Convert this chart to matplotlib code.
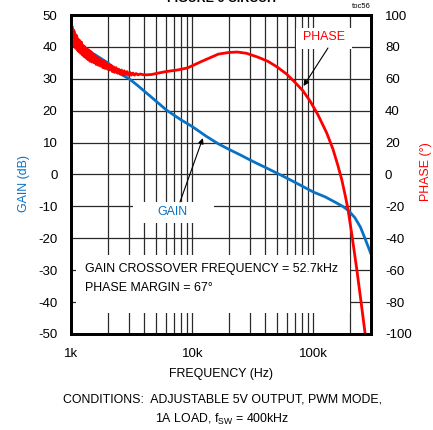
import matplotlib
matplotlib.use("Agg")
import matplotlib.pyplot as plt
from matplotlib.patches import Rectangle

plt.rcParams['font.family'] = ['Liberation Sans', 'DejaVu Sans']
plt.rcParams['axes.unicode_minus'] = False

# ---- data ----
gain_freq = [1000, 1150, 1360, 1650, 2000, 2540, 3000, 3500, 4500, 6100, 8000, 10000,
             13000, 16400, 20000, 25000, 32000, 41700, 52700, 70000, 100000, 125000,
             150000, 175000, 195000, 220000, 245000, 270000, 300000]
gain_db = [41.5, 40.2, 39.0, 37.0, 35.0, 31.5, 30.0, 28.0, 24.5, 20.2, 17.2, 15.0,
           12.0, 9.6, 7.9, 6.1, 4.0, 1.9, 0.0, -2.4, -5.5, -7.0,
           -8.6, -10.0, -11.3, -13.5, -16.5, -20.5, -25.0]

phase_freq = [1000, 1010, 1020, 1030, 1040, 1050, 1060, 1075, 1090, 1105, 1120, 1135,
              1150, 1170, 1190, 1210, 1230, 1250, 1270, 1295, 1320, 1345, 1370, 1395,
              1420, 1450, 1480, 1510, 1540, 1570, 1600, 1635, 1670, 1705, 1740, 1780,
              1820, 1860, 1900, 1945, 1990, 2035, 2080, 2130, 2180, 2230, 2280, 2340,
              2400, 2460, 2520, 2590, 2660, 2730, 2800, 2880, 2960, 3040, 3130, 3220,
              3320, 3420, 3550, 3700, 3900, 4200, 4600, 5000, 6000, 7500, 9100, 12000,
              16400, 20000, 23500, 28000, 35000, 42000, 50000, 60000, 70000, 82000,
              94000, 109000, 129000, 145000, 159000, 172000, 182000, 193000,
              208000, 229000, 247000, 267000, 282000]
phase_deg = [84, 93, 83, 91, 81, 90, 80, 88, 79, 87, 78, 85,
             77, 84, 76, 83, 75, 81, 74, 80, 73, 79, 72, 78,
             71, 77, 70.5, 75.5, 70, 74.5, 69, 73.5, 68.5, 72.5, 68, 71.5,
             67, 71, 66.5, 70, 66, 69, 65.5, 68.5, 64.5, 67.5, 64, 67,
             63.5, 66, 63, 65.5, 62.5, 65, 62.5, 64.5, 62.3, 64, 62.3, 63.6,
             62.3, 63.3, 62.5, 63, 62.6, 62.5, 62.7, 63.3, 64.5, 65.5, 66.8, 71,
             75.5, 76.5, 76.8, 76, 73.5, 71, 67.5, 63, 58, 52.5,
             46, 37.5, 26, 16, 6, -3.5, -12, -21.5,
             -37.6, -60, -79, -99, -114]

xticks = [1000, 10000, 100000]
xticklabels = ['1k', '10k', '100k']
gain_ticks = list(range(-50, 51, 10))
phase_ticks = list(range(-100, 101, 20))

BLUE = '#0A72C4'
RED = '#FF0000'
FS = 8.9
TFS = 9.5

fig = plt.figure(figsize=(4.33, 4.30), dpi=100)
ax = fig.add_axes([0.165, 0.2233, 0.692, 0.7418])
ax.set_xscale('log')
ax.set_xlim(1000, 300000)
ax.set_ylim(-50, 50)
ax.set_axisbelow(True)

ax.set_yticks(gain_ticks)
ax.set_xticks(xticks)
ax.set_xticklabels(xticklabels)
ax.grid(True, which='both', axis='both', color='#2a2a2a', lw=0.9)
ax.tick_params(which='both', length=0, labelsize=TFS)
ax.tick_params(axis='y', pad=10)
ax.tick_params(axis='x', pad=10)

# white boxes hiding the grid behind the labels
ax.add_patch(Rectangle((1090, -43.4), 200000 - 1090, 18.2, facecolor='white',
                       edgecolor='none', zorder=1))
ax.add_patch(Rectangle((3230, -15.2), 15000 - 3230, 6.6, facecolor='white',
                       edgecolor='none', zorder=1))
ax.add_patch(Rectangle((71900, 39.3), 210000 - 71900, 6.6, facecolor='white',
                       edgecolor='none', zorder=1))

ax.plot(gain_freq, gain_db, color=BLUE, lw=2.0, zorder=2, solid_capstyle='butt')

for s in ax.spines.values():
    s.set_linewidth(2.0)

ax.set_ylabel('GAIN (dB)', color=BLUE, fontsize=FS)
ax.yaxis.set_label_coords(-0.139, 0.473)
ax.set_xlabel('FREQUENCY (Hz)', fontsize=FS, labelpad=6)

ax.text(1290, -29.6, 'GAIN CROSSOVER FREQUENCY = 52.7kHz', fontsize=FS,
        va='center', ha='left', zorder=3)
ax.text(1290, -35.6, 'PHASE MARGIN = 67°', fontsize=FS, va='center', ha='left', zorder=3)
ax.text(6900, -11.8, 'GAIN', color=BLUE, fontsize=FS, va='center', ha='center', zorder=3)
ax.annotate('', xy=(12200, 11.4), xytext=(7900, -8.6),
            arrowprops=dict(arrowstyle='-|>', color='black', lw=0.8,
                            mutation_scale=8, shrinkA=0, shrinkB=0), zorder=3)

ax2 = ax.twinx()
ax2.set_ylim(-100, 100)
ax2.set_yticks(phase_ticks)
ax2.tick_params(length=0, labelsize=TFS, pad=10)
ax2.plot(phase_freq, phase_deg, color=RED, lw=2.0, zorder=2)
ax2.set_ylabel('PHASE (°)', color=RED, fontsize=FS)
ax2.yaxis.set_label_coords(1.164, 0.508)
for s in ax2.spines.values():
    s.set_linewidth(2.0)
ax2.text(122000, 86, 'PHASE', color=RED, fontsize=FS, va='center', ha='center', zorder=3)
ax2.annotate('', xy=(83000, 55.5), xytext=(132000, 79.3),
             arrowprops=dict(arrowstyle='-|>', color='black', lw=0.8,
                             mutation_scale=8, shrinkA=0, shrinkB=0), zorder=3)

fig.text(0.513, 1 - 5 / 430, 'FIGURE 6 CIRCUIT', fontsize=FS, fontweight='bold',
         ha='center', va='bottom')
fig.text(0.857, 1 - 6 / 430, 'toc56', fontsize=5.5, ha='right', va='center')
fig.text(0.513, 1 - 400 / 430, 'CONDITIONS:  ADJUSTABLE 5V OUTPUT, PWM MODE,',
         fontsize=FS, ha='center', va='center')
fig.text(0.513, 1 - 419 / 430, r'1A LOAD, f$_{\mathregular{SW}}$ = 400kHz',
         fontsize=FS, ha='center', va='center')

fig.savefig('out.png', dpi=100)
